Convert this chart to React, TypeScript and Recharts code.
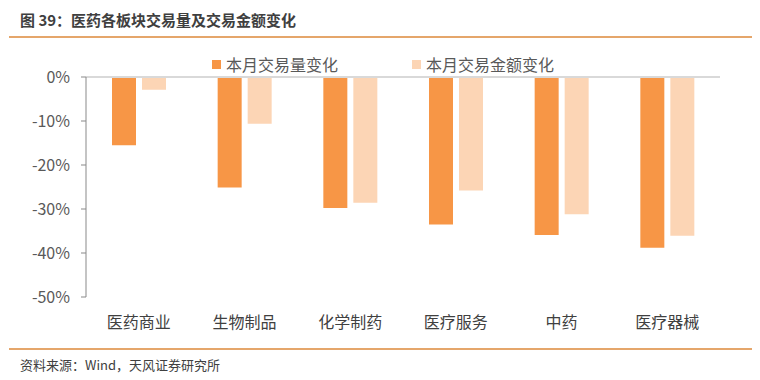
import React from "react";
import { BarChart, Bar, XAxis, YAxis, ReferenceLine } from "recharts";

const categories = ["医药商业", "生物制品", "化学制药", "医疗服务", "中药", "医疗器械"];
const volumeChange = [-15.5, -25.1, -29.8, -33.5, -35.9, -38.8];
const amountChange = [-2.9, -10.6, -28.6, -25.8, -31.2, -36.1];
const yTicks = [0, -10, -20, -30, -40, -50];
const seriesNames = ["本月交易量变化", "本月交易金额变化"];
const colors = ["#F79646", "#FCD5B5"];

const data = categories.map((c, i) => ({ name: c, vol: volumeChange[i], amt: amountChange[i] }));

const FONT = '"Noto Sans CJK SC", "Microsoft YaHei", sans-serif';

const LegendBox = () => (
  <div style={{ position: "absolute", left: 0, top: 53, width: 760, height: 22, fontFamily: FONT, fontSize: 16, color: "#595959" }}>
    {seriesNames.map((n, i) => (
      <div
        key={n}
        style={{ position: "absolute", left: i === 0 ? 212 : 412, top: 0, display: "flex", alignItems: "center", whiteSpace: "nowrap" }}
      >
        <span style={{ display: "inline-block", width: 9, height: 9, background: colors[i], marginRight: 5 }} />
        <span style={{ lineHeight: "22px" }}>{n}</span>
      </div>
    ))}
  </div>
);

export default function App() {
  return (
    <div style={{ position: "absolute", left: 0, top: 0, width: 760, height: 380, background: "#fff", fontFamily: FONT }}>
      <div style={{ position: "absolute", left: 20, top: 9, fontSize: 15, fontWeight: 700, color: "#3F3F3F", whiteSpace: "nowrap", lineHeight: "22px" }}>
        图 39：医药各板块交易量及交易金额变化
      </div>
      <div style={{ position: "absolute", left: 9, top: 36, width: 743, height: 1.5, background: "#E5A66B" }} />
      <div style={{ position: "absolute", left: 9, top: 348, width: 743, height: 1.5, background: "#E5A66B" }} />
      <div style={{ position: "absolute", left: 20, top: 356, fontSize: 13, color: "#404040", whiteSpace: "nowrap", lineHeight: "18px" }}>
        资料来源：Wind，天风证券研究所
      </div>
      <div style={{ position: "absolute", left: 0, top: 0 }}>
        <BarChart
          width={760}
          height={380}
          data={data}
          margin={{ top: 77, right: 40, bottom: 53, left: 0 }}
          barSize={24}
          barGap={6}
        >
          <XAxis
            dataKey="name"
            axisLine={false}
            tickLine={false}
            tickMargin={14}
            tick={{ fontSize: 16, fill: "#404040", fontFamily: FONT }}
            height={30}
            interval={0}
          />
          <YAxis
            width={86}
            domain={[-50, 0]}
            ticks={yTicks}
            tickFormatter={(v: number) => `${v}%`}
            axisLine={{ stroke: "#898989", strokeWidth: 1 }}
            tickLine={{ stroke: "#898989" }}
            tickSize={5}
            tickMargin={11}
            tick={{ fontSize: 16, fill: "#595959", fontFamily: FONT }}
            allowDataOverflow
          />
          <ReferenceLine y={0} stroke="#D9D9D9" strokeWidth={2} />
          <Bar dataKey="vol" name={seriesNames[0]} fill={colors[0]} isAnimationActive={false} />
          <Bar dataKey="amt" name={seriesNames[1]} fill={colors[1]} isAnimationActive={false} />
        </BarChart>
      </div>
      <LegendBox />
    </div>
  );
}
